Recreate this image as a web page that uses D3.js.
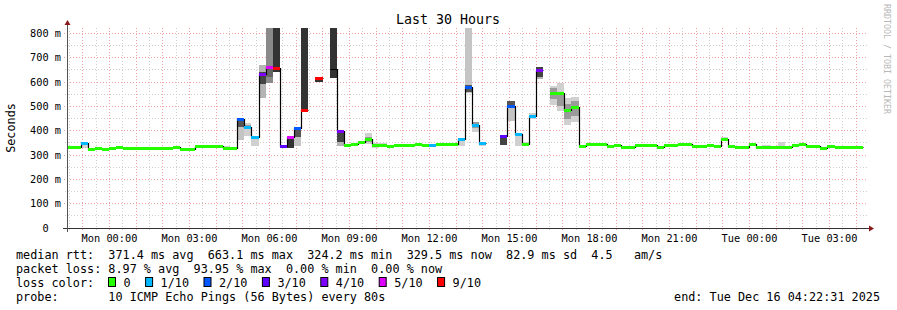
<!DOCTYPE html>
<html>
<head>
<meta charset="utf-8">
<script src="https://cdn.jsdelivr.net/npm/d3@7/dist/d3.min.js"></script>
<style>
    body { margin: 0; background: #ffffff; }
    svg text { font-family: "DejaVu Sans Mono", monospace; white-space: pre; fill: #000; }
</style>
</head>
<body>
<div id="chart"></div>
<script>
// one value per 16 min RRD step, null = nothing came back
let firstStep = new Date(2025, 11, 14, 22, 23, 15)
let stepSeconds = 960

// median rtt in ms
let median = [
    329, 329, 349, 322, 326, 322, 325, 332, 325, 325,
    325, 325, 325, 325, 325, 329, 323, 323, 337, 337,
    337, 333, 325, 325, 447, 415, 371, 632, 660, 656,
    334, 374, 410, 481, null, 615, null, 652, 396, 338,
    345, 351, 363, 338, 338, 335, 338, 340, 339, 345,
    338, 340, 345, 345, 345, 363, 577, 420, 348, null,
    null, 378, 501, 386, 344, 460, 647, null, 552, 552,
    481, 496, 337, 344, 342, 342, 334, 338, 330, 330,
    338, 338, 338, 330, 338, 338, 342, 342, 336, 336,
    340, 336, 362, 334, 330, 330, 342, 330, 330, 330,
    330, 330, 339, 342, 334, 334, 327, 334, 330, 330,
    330, 330
]

// lost pings out of 10
let lossCount = [
    0, 0, 1, 0, 0, 0, 0, 0, 0, 0,
    0, 0, 0, 0, 0, 0, 0, 0, 0, 0,
    0, 0, 0, 0, 2, 1, 1, 4, 5, 9,
    3, 8, 2, 9, null, 9, null, null, 4, 0,
    0, 0, 0, 0, 0, 0, 0, 0, 0, 0,
    0, 1, 0, 0, 0, 1, 2, 1, 1, null,
    null, 3, 2, 1, 0, 1, 4, null, 0, 0,
    0, 0, 0, 0, 0, 0, 0, 0, 0, 0,
    0, 0, 0, 0, 0, 0, 0, 0, 0, 0,
    0, 0, 0, 0, 0, 0, 0, 0, 0, 0,
    0, 0, 0, 0, 0, 0, 0, 0, 0, 0,
    0, 0
]

// smoke: [step, lowest ping, highest ping]
let smokeBands = [
    [2, 329, 352], [10, 326, 333], [22, 325, 338], [24, 362, 450], [25, 378, 430],
    [26, 337, 372], [27, 536, 670], [28, 597, 850], [29, 640, 850], [31, 330, 374],
    [32, 337, 410], [33, 481, 850], [35, 601, 622], [37, 618, 850], [38, 337, 398],
    [42, 345, 390], [43, 330, 350], [44, 338, 350], [55, 338, 363], [56, 554, 850],
    [57, 393, 434], [58, 338, 352], [61, 341, 378], [62, 441, 522], [63, 337, 386],
    [64, 344, 352], [65, 449, 471], [66, 611, 660], [68, 505, 584], [69, 482, 597],
    [70, 423, 536], [71, 437, 540], [92, 362, 375], [97, 330, 336], [98, 330, 341],
    [100, 330, 353], [109, 330, 334], [110, 330, 334]
]

// denser smoke around the median: [step, low, high]
let coreBands = [
    [24, 414, 445], [25, 405, 425], [27, 590, 640], [28, 620, 665], [32, 375, 410],
    [38, 355, 398], [42, 355, 372], [43, 335, 345], [56, 560, 588], [57, 410, 434],
    [61, 341, 378], [62, 492, 522], [66, 620, 660], [68, 530, 575], [69, 500, 560],
    [70, 450, 510], [71, 460, 520]
]

let lossThresholds = [0, 1, 2, 3, 4, 5, 9]
let lossLabels = ['0', '1/10', '2/10', '3/10', '4/10', '5/10', '9/10']
let lossColors = ['#26ff00', '#00b8ff', '#0059ff', '#5e00ff', '#7e00ff', '#dd00ff', '#ff0000']

let yTicks = [0, 100, 200, 300, 400, 500, 600, 700, 800]
let yMinorTicks = [50, 150, 250, 350, 450, 550, 650, 750]

let statLines = [
    'median rtt:  371.4 ms avg  663.1 ms max  324.2 ms min  329.5 ms now  82.9 ms sd  4.5   am/s',
    'packet loss: 8.97 % avg  93.95 % max  0.00 % min  0.00 % now'
]
let probeLine = 'probe:       10 ICMP Echo Pings (56 Bytes) every 80s'
let endLine = 'end: Tue Dec 16 04:22:31 2025'

let W = 897, H = 310
let plot = {left: 67, right: 867, top: 28, bottom: 228}

let axisStart = new Date(2025, 11, 14, 22, 24, 22)
let axisEnd = d3.timeHour.offset(axisStart, 30)

let x = d3.scaleTime().domain([axisStart, axisEnd]).range([plot.left, plot.right])
let y = d3.scaleLinear().domain([0, 822]).range([plot.bottom, plot.top])

let stepTime = k => new Date(+firstStep + k * stepSeconds * 1000)
let crisp = v => Math.floor(v) + 0.5

function lossColor(loss)
{
    let i = d3.bisectRight(lossThresholds, loss) - 1
    return lossColors[i]
}

// fewer pings back -> darker smoke
function smokeShade(loss)
{
    if (loss == null || loss >= 6) return ['#333333', '#333333']
    if (loss == 5) return ['#8a8a8a', '#666666']
    if (loss >= 3) return ['#b4b4b4', '#444444']
    if (loss == 2) return ['#c4c4c4', '#555555']
    return ['#d0d0d0', '#9a9a9a']
}

let svg = d3.select('#chart')
    .append('svg')
    .attr('width', W)
    .attr('height', H)

svg.append('rect').attr('width', W).attr('height', H).attr('fill', '#ffffff')

svg.append('clipPath')
    .attr('id', 'plotclip')
    .append('rect')
    .attr('x', plot.left)
    .attr('y', plot.top)
    .attr('width', plot.right - plot.left)
    .attr('height', plot.bottom - plot.top)

// grid
let grid = svg.append('g')
let majorX = d3.timeHour.range(axisStart, axisEnd)
let minorX = d3.timeMinute.every(30).range(axisStart, axisEnd).filter(d => d.getMinutes() != 0)

grid.selectAll('.minx')
    .data(minorX)
    .enter()
    .append('line')
    .attr('x1', d => crisp(x(d))).attr('x2', d => crisp(x(d)))
    .attr('y1', plot.top).attr('y2', plot.bottom + 2)
    .attr('stroke', '#cfcfcf')
    .attr('stroke-dasharray', '1,2')

grid.selectAll('.miny')
    .data(yMinorTicks)
    .enter()
    .append('line')
    .attr('x1', plot.left - 2).attr('x2', plot.right)
    .attr('y1', d => crisp(y(d))).attr('y2', d => crisp(y(d)))
    .attr('stroke', '#cfcfcf')
    .attr('stroke-dasharray', '1,2')

grid.selectAll('.majx')
    .data(majorX)
    .enter()
    .append('line')
    .attr('x1', d => crisp(x(d))).attr('x2', d => crisp(x(d)))
    .attr('y1', plot.top).attr('y2', plot.bottom + 3)
    .attr('stroke', '#f2a0a0')
    .attr('stroke-dasharray', '1,2')

grid.selectAll('.majy')
    .data(yTicks.filter(v => v > 0))
    .enter()
    .append('line')
    .attr('x1', plot.left - 3).attr('x2', plot.right)
    .attr('y1', d => crisp(y(d))).attr('y2', d => crisp(y(d)))
    .attr('stroke', '#f2a0a0')
    .attr('stroke-dasharray', '1,2')

// smoke
let data = svg.append('g').attr('clip-path', 'url(#plotclip)')

data.selectAll('.smoke')
    .data(smokeBands)
    .enter()
    .append('rect')
    .attr('x', d => x(stepTime(d[0])))
    .attr('width', d => x(stepTime(d[0] + 1)) - x(stepTime(d[0])))
    .attr('y', d => y(d[2]))
    .attr('height', d => y(d[1]) - y(d[2]))
    .attr('fill', d => smokeShade(lossCount[d[0]])[0])
    .attr('shape-rendering', 'crispEdges')

data.selectAll('.core')
    .data(coreBands)
    .enter()
    .append('rect')
    .attr('x', d => x(stepTime(d[0])))
    .attr('width', d => x(stepTime(d[0] + 1)) - x(stepTime(d[0])))
    .attr('y', d => y(d[2]))
    .attr('height', d => y(d[1]) - y(d[2]))
    .attr('fill', d => smokeShade(lossCount[d[0]])[1])
    .attr('shape-rendering', 'crispEdges')

// black median step line
let points = []
median.forEach((m, k) =>
{
    points.push({t: stepTime(k), v: m})
    points.push({t: stepTime(k + 1), v: m})
})

let line = d3.line()
    .defined(d => d.v != null)
    .x(d => Math.round(x(d.t)) + 0.5)
    .y(d => crisp(y(d.v)))

data.append('path')
    .attr('d', line(points))
    .attr('fill', 'none')
    .attr('stroke', '#000000')
    .attr('stroke-width', 1.2)

// median coloured by loss
data.selectAll('.med')
    .data(median.map((m, k) => ({k: k, v: m, loss: lossCount[k]})).filter(d => d.v != null && d.loss != null))
    .enter()
    .append('rect')
    .attr('x', d => x(stepTime(d.k)))
    .attr('width', d => x(stepTime(d.k + 1)) - x(stepTime(d.k)))
    .attr('y', d => y(d.v) - 1.5)
    .attr('height', 3)
    .attr('fill', d => lossColor(d.loss))
    .attr('shape-rendering', 'crispEdges')

// axes
svg.append('line')
    .attr('x1', plot.left - 4).attr('x2', plot.right + 2)
    .attr('y1', plot.bottom + 0.5).attr('y2', plot.bottom + 0.5)
    .attr('stroke', '#333')
svg.append('line')
    .attr('x1', plot.left + 0.5).attr('x2', plot.left + 0.5)
    .attr('y1', plot.bottom + 4).attr('y2', plot.top - 3)
    .attr('stroke', '#555')
svg.append('path')
    .attr('d', `M${plot.right + 2},${plot.bottom - 2.5} l5,3 l-5,3 Z`)
    .attr('fill', '#8b1a1a')
svg.append('path')
    .attr('d', `M${plot.left - 2.5},${plot.top - 3} l3,-5 l3,5 Z`)
    .attr('fill', '#8b1a1a')

// axis labels
svg.selectAll('.xl')
    .data(d3.timeHour.every(3).range(axisStart, axisEnd))
    .enter()
    .append('text')
    .attr('x', d => x(d))
    .attr('y', 242)
    .attr('text-anchor', 'middle')
    .attr('font-size', '10.3px')
    .text(d3.timeFormat('%a %H:%M'))

svg.selectAll('.yl')
    .data(yTicks)
    .enter()
    .append('text')
    .attr('x', 61)
    .attr('y', d => y(d) + 3.8)
    .attr('text-anchor', 'end')
    .attr('font-size', '10.3px')
    .text(d => d == 0 ? '0  ' : d + ' m')

svg.append('text')
    .attr('transform', 'translate(15,128) rotate(-90)')
    .attr('text-anchor', 'middle')
    .attr('font-size', '11.8px')
    .text('Seconds')

svg.append('text')
    .attr('x', 448)
    .attr('y', 23.5)
    .attr('text-anchor', 'middle')
    .attr('font-size', '13.3px')
    .text('Last 30 Hours')

svg.append('text')
    .attr('transform', 'translate(884,4) rotate(90)')
    .attr('font-size', '8.3px')
    .style('fill', '#b8b8b8')
    .text('RRDTOOL / TOBI OETIKER')

// legend
let legend = svg.append('g').attr('font-size', '11.8px')

statLines.forEach((s, i) =>
{
    legend.append('text').attr('x', 16).attr('y', 258.5 + i * 14).text(s)
})

legend.append('text').attr('x', 16).attr('y', 286.5).text('loss color:')

let boxX = 108.5
lossLabels.forEach((label, i) =>
{
    legend.append('rect')
        .attr('x', boxX)
        .attr('y', 277.5)
        .attr('width', 7)
        .attr('height', 9)
        .attr('fill', lossColors[i])
        .attr('stroke', '#000')
    legend.append('text').attr('x', boxX + 15).attr('y', 286.5).text(label)
    boxX = boxX + 15 + label.length * 7.1 + 15
})

legend.append('text').attr('x', 16).attr('y', 300.5).text(probeLine)
legend.append('text').attr('x', 880).attr('y', 300.5).attr('text-anchor', 'end').text(endLine)
</script>
</body>
</html>
